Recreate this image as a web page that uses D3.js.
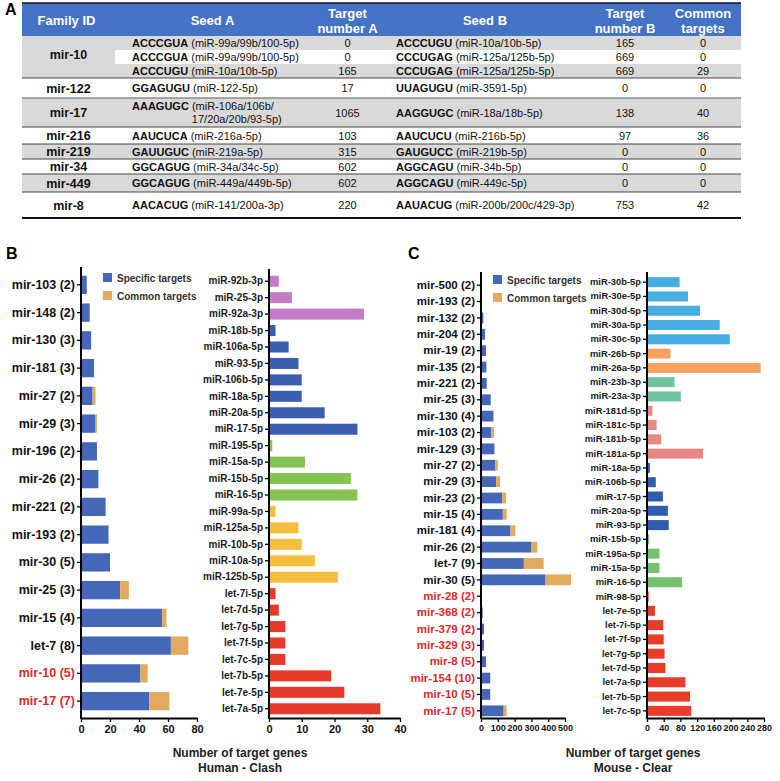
<!DOCTYPE html>
<html><head><meta charset="utf-8">
<script src="https://cdn.jsdelivr.net/npm/d3@7/dist/d3.min.js"></script>
<style>
html,body{margin:0;padding:0;background:#fff}
svg{display:block}
</style></head><body>
<svg id="chart" width="780" height="781"></svg>
<script>
// ---------------- Panel A: table data ----------------
const tableHeaders = [["Family ID"],["Seed A"],["Target","number A"],["Seed B"],["Target","number B"],["Common","targets"]];
const familyIds = ["mir-10","mir-122","mir-17","mir-216","mir-219","mir-34","mir-449","mir-8"];
const familySpan = [3,1,1,1,1,1,1,1];
const seedASeq = ["ACCCGUA","ACCCGUA","ACCCUGU","GGAGUGU","AAAGUGC","AAUCUCA","GAUUGUC","GGCAGUG","GGCAGUG","AACACUG"];
const seedAMir = ["(miR-99a/99b/100-5p)","(miR-99a/99b/100-5p)","(miR-10a/10b-5p)","(miR-122-5p)","(miR-106a/106b/|17/20a/20b/93-5p)","(miR-216a-5p)","(miR-219a-5p)","(miR-34a/34c-5p)","(miR-449a/449b-5p)","(miR-141/200a-3p)"];
const targetNumberA = [0,0,165,17,1065,103,315,602,602,220];
const seedBSeq = ["ACCCUGU","CCCUGAG","CCCUGAG","UUAGUGU","AAGGUGC","AAUCUCU","GAUGUCC","AGGCAGU","AGGCAGU","AAUACUG"];
const seedBMir = ["(miR-10a/10b-5p)","(miR-125a/125b-5p)","(miR-125a/125b-5p)","(miR-3591-5p)","(miR-18a/18b-5p)","(miR-216b-5p)","(miR-219b-5p)","(miR-34b-5p)","(miR-449c-5p)","(miR-200b/200c/429-3p)"];
const targetNumberB = [165,669,669,0,138,97,0,0,0,753];
const commonTargets = [0,0,29,0,40,36,0,0,0,42];

// ---------------- Panel B: Human - Clash ----------------
const familiesHuman = ["mir-103 (2)","mir-148 (2)","mir-130 (3)","mir-181 (3)","mir-27 (2)","mir-29 (3)","mir-196 (2)","mir-26 (2)","mir-221 (2)","mir-193 (2)","mir-30 (5)","mir-25 (3)","mir-15 (4)","let-7 (8)","mir-10 (5)","mir-17 (7)"];
const specificHuman = [4,6,7,9,8,10,11,12,17,19,20,27,56,62,41,47];
const commonHuman   = [0,0,0,0,2,1,0,0,0,0,0,6,3,12,5,14];
const highlightHuman = ["mir-10 (5)","mir-17 (7)"];
const ticksHumanFamily = [0,20,40,60,80];

const mirsHuman = ["miR-92b-3p","miR-25-3p","miR-92a-3p","miR-18b-5p","miR-106a-5p","miR-93-5p","miR-106b-5p","miR-18a-5p","miR-20a-5p","miR-17-5p","miR-195-5p","miR-15a-5p","miR-15b-5p","miR-16-5p","miR-99a-5p","miR-125a-5p","miR-10b-5p","miR-10a-5p","miR-125b-5p","let-7i-5p","let-7d-5p","let-7g-5p","let-7f-5p","let-7c-5p","let-7b-5p","let-7e-5p","let-7a-5p"];
const mirGroupHuman = ["mir-25","mir-25","mir-25","mir-17","mir-17","mir-17","mir-17","mir-17","mir-17","mir-17","mir-15","mir-15","mir-15","mir-15","mir-10","mir-10","mir-10","mir-10","mir-10","let-7","let-7","let-7","let-7","let-7","let-7","let-7","let-7"];
const mirValuesHuman = [3,7,29,2,6,9,10,10,17,27,1,11,25,27,2,9,10,14,21,2,3,5,5,5,19,23,34];
const ticksHumanMir = [0,10,20,30,40];

// ---------------- Panel C: Mouse - Clear ----------------
const familiesMouse = ["mir-500 (2)","mir-193 (2)","mir-132 (2)","mir-204 (2)","mir-19 (2)","mir-135 (2)","mir-221 (2)","mir-25 (3)","mir-130 (4)","mir-103 (2)","mir-129 (3)","mir-27 (2)","mir-29 (3)","mir-23 (2)","mir-15 (4)","mir-181 (4)","mir-26 (2)","let-7 (9)","mir-30 (5)","mir-28 (2)","mir-368 (2)","mir-379 (2)","mir-329 (3)","mir-8 (5)","mir-154 (10)","mir-10 (5)","mir-17 (5)"];
const specificMouse = [0,0,14,24,30,32,34,58,74,60,80,84,90,126,130,175,301,255,381,0,10,18,18,30,55,55,135];
const commonMouse   = [0,0,0,0,0,0,0,0,0,18,0,16,24,23,23,30,34,118,155,0,0,0,0,0,0,0,18];
const highlightMouse = ["mir-28 (2)","mir-368 (2)","mir-379 (2)","mir-329 (3)","mir-8 (5)","mir-154 (10)","mir-10 (5)","mir-17 (5)"];
const ticksMouseFamily = [0,100,200,300,400,500];

const mirsMouse = ["miR-30b-5p","miR-30e-5p","miR-30d-5p","miR-30a-5p","miR-30c-5p","miR-26b-5p","miR-26a-5p","miR-23b-3p","miR-23a-3p","miR-181d-5p","miR-181c-5p","miR-181b-5p","miR-181a-5p","miR-18a-5p","miR-106b-5p","miR-17-5p","miR-20a-5p","miR-93-5p","miR-15b-5p","miR-195a-5p","miR-15a-5p","miR-16-5p","miR-98-5p","let-7e-5p","let-7i-5p","let-7f-5p","let-7g-5p","let-7d-5p","let-7a-5p","let-7b-5p","let-7c-5p"];
const mirGroupMouse = ["mir-30","mir-30","mir-30","mir-30","mir-30","mir-26","mir-26","mir-23","mir-23","mir-181","mir-181","mir-181","mir-181","mir-17","mir-17","mir-17","mir-17","mir-17","mir-15","mir-15","mir-15","mir-15","let-7","let-7","let-7","let-7","let-7","let-7","let-7","let-7","let-7"];
const mirValuesMouse = [78,98,127,174,198,56,272,66,81,13,23,34,134,7,21,38,50,52,5,30,30,84,4,19,39,40,42,44,92,103,106];
const ticksMouseMir = [0,40,80,120,160,200,240,280];

// ---------------- styles ----------------
const F = '"Liberation Sans", Arial, Helvetica, sans-serif';
const specificColor = "#4468b7", commonColor = "#e2aa5c";
const groupColorsHuman = {"mir-25":"#c47cc6","mir-17":"#3a5db0","mir-15":"#84c450","mir-10":"#f4bf3e","let-7":"#e5392c"};
const groupColorsMouse = {"mir-30":"#47ade2","mir-26":"#f6a25e","mir-23":"#6ec49f","mir-181":"#e98686","mir-17":"#2f5cb0","mir-15":"#76c26c","let-7":"#e83c2b"};
const highlightColor = "#e0282a";

const svg = d3.select("#chart");

// ================= Panel A =================
(function(){
  const tX = [22,115,310,385,585,665,741];
  const rowTop = [36,50,64,78,98,127,144,159,174,192,218];
  const headTop = 3;
  const A = svg.append("g").attr("font-family",F);
  A.append("text").attr("x",5).attr("y",15).attr("font-size",16).attr("font-weight","bold").text("A");
  A.append("rect").attr("x",tX[0]).attr("y",headTop).attr("width",tX[6]-tX[0]).attr("height",rowTop[0]-headTop).attr("fill","#4472c4");
  A.append("line").attr("x1",tX[0]).attr("x2",tX[6]).attr("y1",headTop).attr("y2",headTop).attr("stroke","#111").attr("stroke-width",1.5);
  tableHeaders.forEach((lines,c)=>{
    const cx = (tX[c]+tX[c+1])/2 + (c===0?-2:0);
    const t = A.append("text").attr("x",cx).attr("text-anchor","middle").attr("fill","#fff").attr("font-weight","bold").attr("font-size",13);
    if(lines.length===1){ t.attr("y",25).text(lines[0]); }
    else { lines.forEach((l,k)=>t.append("tspan").attr("x",cx).attr("y",18+k*15).text(l)); }
  });
  const nRows = seedASeq.length;
  A.selectAll("rect.row").data(d3.range(nRows)).join("rect").attr("class","row")
    .attr("x",tX[0]).attr("width",tX[6]-tX[0])
    .attr("y",i=>rowTop[i]).attr("height",i=>rowTop[i+1]-rowTop[i])
    .attr("fill",i=>i%2===0?"#d9d9d9":"#ffffff");
  let r = 0;
  familyIds.forEach((f,k)=>{
    const y0 = rowTop[r], y1 = rowTop[r+familySpan[k]];
    if(familySpan[k]>1) A.append("rect").attr("x",tX[0]).attr("y",y0).attr("width",tX[1]-tX[0]).attr("height",y1-y0).attr("fill","#d9d9d9");
    const cy = (y0+y1)/2 - (familySpan[k]>1?3:0);
    A.append("text").attr("x",(tX[0]+tX[1])/2).attr("y",cy+4.5).attr("text-anchor","middle").attr("font-weight","bold").attr("font-size",12.5).attr("fill","#111").text(f);
    r += familySpan[k];
  });
  [3,4,5,6,7,8,9].forEach(i=>{
    A.append("line").attr("x1",tX[0]).attr("x2",tX[6]).attr("y1",rowTop[i]).attr("y2",rowTop[i])
      .attr("stroke", i===4?"#8a8a8a":"#444").attr("stroke-width", i===4?1.6:1);
  });
  A.append("line").attr("x1",tX[0]).attr("x2",tX[6]).attr("y1",rowTop[10]).attr("y2",rowTop[10]).attr("stroke","#111").attr("stroke-width",2);
  function seedText(x, cy, seq, mir){
    const parts = mir.split("|");
    const lines = parts.length;
    const baseY = cy + 4 - (lines-1)*6.5;
    const t = A.append("text").attr("x",x).attr("y",baseY).attr("font-size",11).attr("fill","#111");
    const b = t.append("tspan").attr("font-weight","bold").text(seq);
    t.append("tspan").text(" " + parts[0]);
    if(lines>1){
      const w = b.node().getComputedTextLength() + 3;
      A.append("text").attr("x",x+w).attr("y",baseY+13).attr("font-size",11).attr("fill","#111").text(parts[1]);
    }
  }
  for(let i=0;i<nRows;i++){
    const cy = (rowTop[i]+rowTop[i+1])/2;
    seedText(132, cy, seedASeq[i], seedAMir[i]);
    seedText(396, cy, seedBSeq[i], seedBMir[i]);
    [[targetNumberA,2],[targetNumberB,4],[commonTargets,5]].forEach(([arr,c])=>{
      A.append("text").attr("x",(tX[c]+tX[c+1])/2).attr("y",cy+4).attr("text-anchor","middle").attr("font-size",11).attr("fill","#111").text(arr[i]);
    });
  }
})();

// ================= Bar panels =================
function barPanel(cfg){
  const g = svg.append("g").attr("font-family",F);
  const y = d3.scaleBand().domain(cfg.cats).range([cfg.y0,cfg.y1]).paddingInner(cfg.pad).paddingOuter(cfg.pad/2);
  const x = d3.scaleLinear().domain(cfg.xDomain).range([cfg.x0,cfg.x1]);
  const rows = cfg.cats.map((c,i)=>{const o={}; cfg.series.forEach((s,k)=>o["s"+k]=s[i]); return o;});
  const layers = d3.stack().keys(cfg.series.map((s,k)=>"s"+k))(rows);
  layers.forEach((layer,k)=>{
    g.append("g").selectAll("rect").data(layer).join("rect")
      .attr("x",d=>x(d[0])).attr("y",(d,i)=>y(cfg.cats[i]))
      .attr("width",d=>Math.max(0,x(d[1])-x(d[0]))).attr("height",y.bandwidth())
      .attr("fill",(d,i)=>cfg.fill(k,i));
  });
  const ya = g.append("g").attr("transform",`translate(${cfg.x0},0)`)
    .call(d3.axisLeft(y).tickSize(cfg.tick).tickPadding(2).tickSizeOuter(0));
  ya.select(".domain").remove();
  ya.selectAll(".tick line").attr("stroke","#000").attr("stroke-width",1.3);
  ya.selectAll(".tick text").attr("font-size",cfg.labelSize).attr("font-weight","bold").attr("font-family",F)
    .attr("fill",d=>cfg.labelColor(d));
  g.append("line").attr("x1",cfg.x0).attr("x2",cfg.x0).attr("y1",cfg.axisTop).attr("y2",cfg.axisY+1).attr("stroke","#000").attr("stroke-width",2);
  const xa = g.append("g").attr("transform",`translate(0,${cfg.axisY})`)
    .call(d3.axisBottom(x).tickValues(cfg.ticks).tickSize(4).tickSizeOuter(0).tickPadding(3));
  xa.select(".domain").attr("stroke","#000").attr("stroke-width",2);
  xa.selectAll(".tick line").attr("stroke","#000").attr("stroke-width",1.3);
  xa.selectAll(".tick text").attr("font-size",cfg.tickSize).attr("font-weight","bold").attr("font-family",F).attr("fill","#111");
  return g;
}

function legend(x, y){
  const g = svg.append("g").attr("font-family",F);
  [["Specific targets",specificColor],["Common targets",commonColor]].forEach(([t,c],k)=>{
    g.append("rect").attr("x",x).attr("y",y+k*18).attr("width",9).attr("height",9).attr("fill",c);
    g.append("text").attr("x",x+14).attr("y",y+k*18+8.5).attr("font-size",10).attr("font-weight","bold").attr("fill","#333").text(t);
  });
}

const AXIS_Y = 718;

// Panel B
svg.append("text").attr("x",6).attr("y",259).attr("font-family",F).attr("font-size",16).attr("font-weight","bold").text("B");
barPanel({cats:familiesHuman, series:[specificHuman,commonHuman], fill:(k)=>k===0?specificColor:commonColor,
  labelColor:d=>highlightHuman.includes(d)?highlightColor:"#111",
  y0:271, y1:715, pad:0.34, xDomain:[0,80], x0:81, x1:197, tick:4, labelSize:12.5, tickSize:11,
  axisTop:267, axisY:AXIS_Y, ticks:ticksHumanFamily});
legend(103, 273);
barPanel({cats:mirsHuman, series:[mirValuesHuman], fill:(k,i)=>groupColorsHuman[mirGroupHuman[i]],
  labelColor:()=>"#1a1a1a",
  y0:273, y1:717, pad:0.33, xDomain:[0,40], x0:269, x1:400, tick:4, labelSize:10, tickSize:11,
  axisTop:269, axisY:AXIS_Y, ticks:ticksHumanMir});

// Panel C
svg.append("text").attr("x",408).attr("y",259).attr("font-family",F).attr("font-size",16).attr("font-weight","bold").text("C");
barPanel({cats:familiesMouse, series:[specificMouse,commonMouse], fill:(k)=>k===0?specificColor:commonColor,
  labelColor:d=>highlightMouse.includes(d)?highlightColor:"#111",
  y0:277, y1:719, pad:0.34, xDomain:[0,500], x0:481, x1:565, tick:4, labelSize:11.5, tickSize:9,
  axisTop:272, axisY:AXIS_Y, ticks:ticksMouseFamily});
legend(493, 275);
barPanel({cats:mirsMouse, series:[mirValuesMouse], fill:(k,i)=>groupColorsMouse[mirGroupMouse[i]],
  labelColor:()=>"#1a1a1a",
  y0:275, y1:718, pad:0.3, xDomain:[0,280], x0:647, x1:764, tick:4, labelSize:9.4, tickSize:9,
  axisTop:272, axisY:AXIS_Y, ticks:ticksMouseMir});

// axis titles
[[240,"Human - Clash"],[633,"Mouse - Clear"]].forEach(([cx,sub])=>{
  const t = svg.append("text").attr("font-family",F).attr("font-size",12).attr("font-weight","bold").attr("fill","#222").attr("text-anchor","middle");
  t.append("tspan").attr("x",cx).attr("y",757).text("Number of target genes");
  t.append("tspan").attr("x",cx).attr("y",772).text(sub);
});
</script>
</body></html>
